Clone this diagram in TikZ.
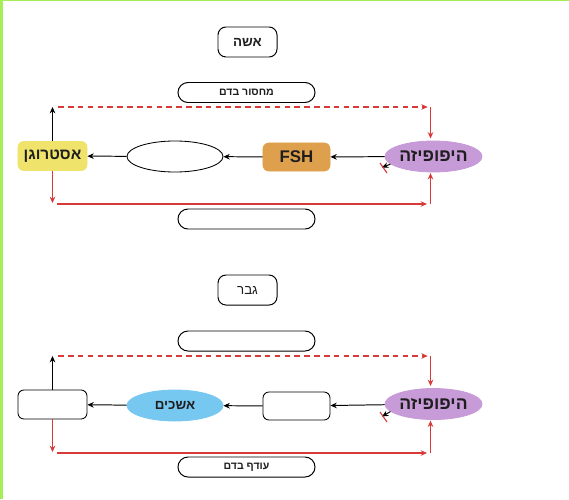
\documentclass[tikz,border=0pt]{standalone}
\usepackage{fontspec}
\setmainfont{Liberation Sans}
\newfontfamily\heb[Script=Hebrew]{Liberation Sans}
\newfontfamily\hebb[Script=Hebrew]{Liberation Sans Bold}
\TeXXeTstate=1
\usepackage{tikz}
\usetikzlibrary{arrows.meta, shapes.geometric}
\newcommand{\hb}[1]{{\hebb\beginR #1\endR}}
\newcommand{\hr}[1]{{\heb\beginR #1\endR}}
\definecolor{estrcol}{HTML}{EFE36C}
\definecolor{fshcol}{HTML}{DFA04E}
\definecolor{hypcol}{HTML}{C79AD8}
\definecolor{testcol}{HTML}{76C8F0}
\definecolor{fbred}{HTML}{D83A3A}
\definecolor{framegreen}{HTML}{A6EE55}
\definecolor{txt}{HTML}{1E1E1E}
\tikzset{title/.style = {shape = rectangle, draw, line width = 0.7pt, rounded corners = 0.2cm, minimum width = 1.475cm, minimum height = 0.75cm, inner sep = 0pt, text = txt, font = \fontsize{9.5}{11}\selectfont}}
\tikzset{level/.style = {shape = rectangle, draw, line width = 0.7pt, rounded corners = 0.25cm, minimum width = 3.425cm, minimum height = 0.5cm, inner sep = 0pt, text = txt, font = \fontsize{7.5}{9}\selectfont}}
\tikzset{organ/.style = {shape = rectangle, draw, line width = 0.6pt, rounded corners = 0.15cm, minimum width = 1.725cm, minimum height = 0.725cm, inner sep = 0pt, text = txt, font = \fontsize{11}{13}\selectfont\bfseries}}
\tikzset{gland/.style = {shape = ellipse, draw, line width = 0.6pt, minimum width = 2.4cm, minimum height = 0.775cm, inner sep = 0pt, text = txt, font = \fontsize{10}{12}\selectfont}}
\tikzset{arr/.style = {-{Stealth[length = 4.5pt, width = 4pt]}, line width = 0.7pt, black}}
\tikzset{redarr/.style = {-{Stealth[length = 4.5pt, width = 4pt]}, fbred, line width = 0.8pt}}
\tikzset{fbdash/.style = {dash pattern = on 4pt off 3pt}}

\begin{document}
\begin{tikzpicture}[x = 0.025cm, y = -0.025cm]
				\useasboundingbox (0, 0) rectangle (569, 499);
				\fill[framegreen] (0, 0) rectangle (2.5, 499);
				\fill[framegreen] (0, 0) rectangle (569, 1.2);

				% woman
				\node[title] (woman) at (247.5, 42) {\hb{אשה}};
				\node[level] (lack) at (246.5, 92.5) {\hb{מחסור בדם}};
				\node[organ, draw = estrcol, fill = estrcol] (estr) at (52.5, 156) {\hb{אסטרוגן}};
				\node[gland] (ovary) at (175, 156.5) {};
				\node[organ, draw = fshcol, fill = fshcol, minimum width = 1.675cm, minimum height = 0.7cm, font = \fontsize{12}{14}\selectfont\bfseries] (fsh) at (296.5, 157) {FSH};
				\node[gland, draw = hypcol, fill = hypcol, minimum width = 2.425cm, font = \fontsize{12.5}{14}\selectfont] (hyp1) at (433.5, 156.5) {\hb{היפופיזה}};
				\node[level] (empty1) at (246.5, 219) {};

				\coordinate (tl1) at (52.5, 107);
				\coordinate (tr1) at (430.5, 107);
				\coordinate (bl1) at (52.5, 203);
				\coordinate (br1) at (430.5, 204);
				\coordinate (inh1) at (382, 167.5);
				\coordinate (bar1a) at (380, 163);
				\coordinate (bar1b) at (387, 173);

				\draw[arr] (hyp1) to (fsh);
				\draw[arr] (fsh) to (ovary);
				\draw[arr] (ovary) to (estr);
				\draw[arr] (estr) to (tl1);
				\draw[redarr, fbdash, shorten <= 4pt, shorten >= 2pt] (tl1) to (tr1);
				\draw[redarr, shorten >= 1.5pt] (tr1) to (tr1 |- hyp1.north);
				\draw[redarr] (estr) to (bl1);
				\draw[redarr, shorten <= 3.5pt, shorten >= 2.5pt] (bl1 |- br1) to (br1);
				\draw[redarr, shorten >= 0.5pt] (br1) to (br1 |- hyp1.south);
				\draw[arr] (hyp1.190) to (inh1);
				\draw[fbred, line width = 0.8pt] (bar1a) to (bar1b);

				% man
				\node[title] (man) at (247.5, 290) {\hr{גבר}};
				\node[level] (empty2) at (246.5, 341) {};
				\node[organ] (empty3) at (52.5, 404.5) {};
				\node[gland, draw = testcol, fill = testcol, font = \fontsize{9.5}{11}\selectfont] (testes) at (175, 405.5) {\hb{אשכים}};
				\node[organ, minimum width = 1.675cm, minimum height = 0.7cm] (empty4) at (296.5, 406) {};
				\node[gland, draw = hypcol, fill = hypcol, minimum width = 2.425cm, font = \fontsize{12.5}{14}\selectfont] (hyp2) at (433.5, 404) {\hb{היפופיזה}};
				\node[level] (excess) at (246.5, 467) {\hb{עודף בדם}};

				\coordinate (tl2) at (52.5, 356);
				\coordinate (tr2) at (430.5, 356);
				\coordinate (bl2) at (52.5, 452);
				\coordinate (br2) at (430.5, 453);
				\coordinate (inh2) at (382, 416.5);
				\coordinate (bar2a) at (380, 412);
				\coordinate (bar2b) at (387, 422);

				\draw[arr] (hyp2) to (empty4);
				\draw[arr] (empty4) to (testes);
				\draw[arr] (testes) to (empty3);
				\draw[arr] (empty3) to (tl2);
				\draw[redarr, fbdash, shorten <= 4pt, shorten >= 2pt] (tl2) to (tr2);
				\draw[redarr, shorten >= 1.5pt] (tr2) to (tr2 |- hyp2.north);
				\draw[redarr] (empty3) to (bl2);
				\draw[redarr, shorten <= 3.5pt, shorten >= 2.5pt] (bl2 |- br2) to (br2);
				\draw[redarr, shorten >= 0.5pt] (br2) to (br2 |- hyp2.south);
				\draw[arr] (hyp2.190) to (inh2);
				\draw[fbred, line width = 0.8pt] (bar2a) to (bar2b);
			\end{tikzpicture}
\end{document}
